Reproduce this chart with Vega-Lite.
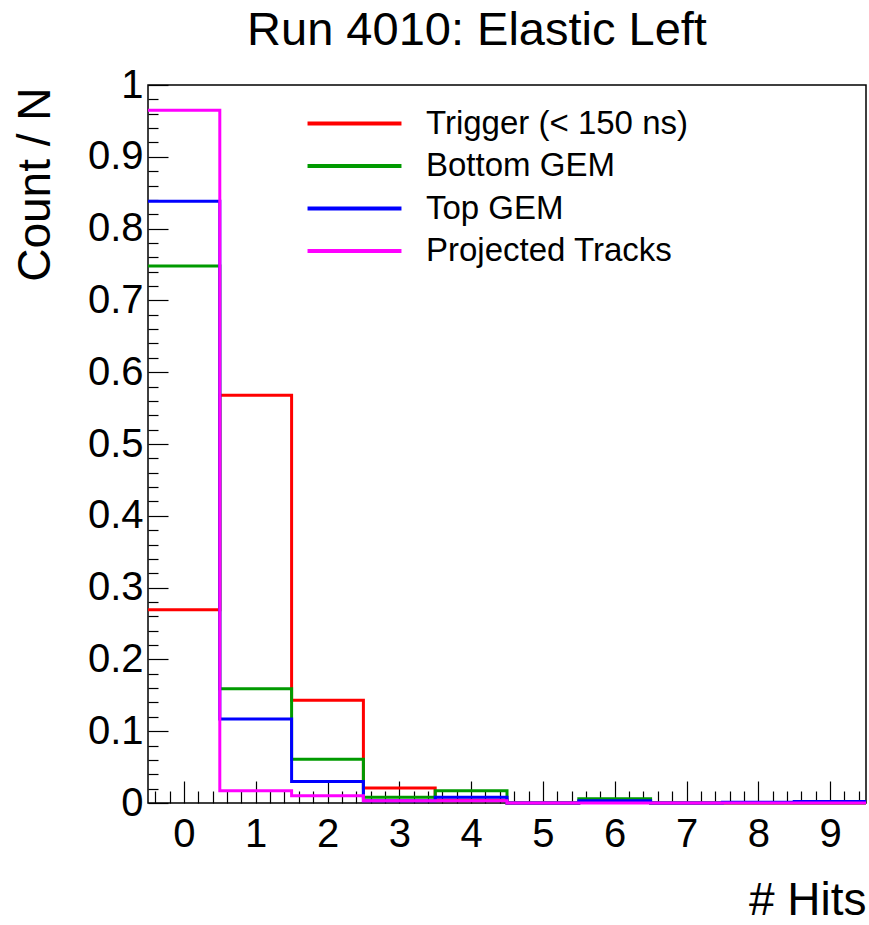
{
  "$schema": "https://vega.github.io/schema/vega-lite/v6.json",
  "width": 718,
  "height": 718,
  "autosize": "none",
  "padding": {"left": 148, "top": 85, "right": 3, "bottom": 122},
  "background": "white",
  "config": {
    "view": {"stroke": "#000", "strokeWidth": 1.5},
    "font": "Liberation Sans",
    "axis": {"labelFont": "Liberation Sans", "titleFont": "Liberation Sans", "labelColor": "#000", "titleColor": "#000", "tickColor": "#000"}
  },
  "title": {
    "text": "Run 4010: Elastic Left",
    "fontSize": 47,
    "font": "Liberation Sans",
    "fontWeight": "normal",
    "color": "#000",
    "anchor": "middle",
    "frame": "group",
    "dx": -30,
    "offset": 10
  },
  "data": {
    "values": [
      {"series": "Trigger (< 150 ns)", "x": -0.5, "y": 0.269},
      {"series": "Trigger (< 150 ns)", "x": 0.5, "y": 0.568},
      {"series": "Trigger (< 150 ns)", "x": 1.5, "y": 0.143},
      {"series": "Trigger (< 150 ns)", "x": 2.5, "y": 0.021},
      {"series": "Trigger (< 150 ns)", "x": 3.5, "y": 0.004},
      {"series": "Trigger (< 150 ns)", "x": 4.5, "y": 0.0},
      {"series": "Trigger (< 150 ns)", "x": 5.5, "y": 0.001},
      {"series": "Trigger (< 150 ns)", "x": 6.5, "y": 0.0},
      {"series": "Trigger (< 150 ns)", "x": 7.5, "y": 0.0},
      {"series": "Trigger (< 150 ns)", "x": 8.5, "y": 0.0},
      {"series": "Trigger (< 150 ns)", "x": 9.5, "y": 0.0},
      {"series": "Bottom GEM", "x": -0.5, "y": 0.748},
      {"series": "Bottom GEM", "x": 0.5, "y": 0.159},
      {"series": "Bottom GEM", "x": 1.5, "y": 0.061},
      {"series": "Bottom GEM", "x": 2.5, "y": 0.008},
      {"series": "Bottom GEM", "x": 3.5, "y": 0.017},
      {"series": "Bottom GEM", "x": 4.5, "y": 0.0},
      {"series": "Bottom GEM", "x": 5.5, "y": 0.006},
      {"series": "Bottom GEM", "x": 6.5, "y": 0.0},
      {"series": "Bottom GEM", "x": 7.5, "y": 0.0},
      {"series": "Bottom GEM", "x": 8.5, "y": 0.0},
      {"series": "Bottom GEM", "x": 9.5, "y": 0.0},
      {"series": "Top GEM", "x": -0.5, "y": 0.838},
      {"series": "Top GEM", "x": 0.5, "y": 0.117},
      {"series": "Top GEM", "x": 1.5, "y": 0.030},
      {"series": "Top GEM", "x": 2.5, "y": 0.003},
      {"series": "Top GEM", "x": 3.5, "y": 0.008},
      {"series": "Top GEM", "x": 4.5, "y": 0.0},
      {"series": "Top GEM", "x": 5.5, "y": 0.003},
      {"series": "Top GEM", "x": 6.5, "y": 0.0},
      {"series": "Top GEM", "x": 7.5, "y": 0.001},
      {"series": "Top GEM", "x": 8.5, "y": 0.002},
      {"series": "Top GEM", "x": 9.5, "y": 0.002},
      {"series": "Projected Tracks", "x": -0.5, "y": 0.965},
      {"series": "Projected Tracks", "x": 0.5, "y": 0.017},
      {"series": "Projected Tracks", "x": 1.5, "y": 0.010},
      {"series": "Projected Tracks", "x": 2.5, "y": 0.003},
      {"series": "Projected Tracks", "x": 3.5, "y": 0.003},
      {"series": "Projected Tracks", "x": 4.5, "y": 0.0},
      {"series": "Projected Tracks", "x": 5.5, "y": 0.0},
      {"series": "Projected Tracks", "x": 6.5, "y": 0.0},
      {"series": "Projected Tracks", "x": 7.5, "y": 0.0},
      {"series": "Projected Tracks", "x": 8.5, "y": 0.0},
      {"series": "Projected Tracks", "x": 9.5, "y": 0.0}
    ]
  },
  "layer": [
    {
      "mark": {"type": "line", "interpolate": "step-after", "strokeWidth": 3, "clip": false},
      "encoding": {
        "x": {
          "field": "x", "type": "quantitative",
          "scale": {"domain": [-0.5, 9.5], "nice": false, "zero": false},
          "axis": {
            "values": [0, 1, 2, 3, 4, 5, 6, 7, 8, 9],
            "tickSize": -22, "tickWidth": 1.2, "domain": false, "grid": false,
            "labelFontSize": 40, "labelPadding": 33,
            "title": "# Hits", "titleFontSize": 46, "titleFontWeight": "normal",
            "titleAlign": "right", "titleBaseline": "alphabetic", "titleX": 718, "titleY": 111
          }
        },
        "y": {
          "field": "y", "type": "quantitative",
          "scale": {"domain": [0, 1], "nice": false},
          "axis": {
            "values": [0, 0.1, 0.2, 0.3, 0.4, 0.5, 0.6, 0.7, 0.8, 0.9, 1],
            "format": ".1~f",
            "tickSize": -20, "tickWidth": 1.2, "domain": false, "grid": false,
            "labelFontSize": 40, "labelPadding": 25,
            "title": "Count / N", "titleFontSize": 46, "titleFontWeight": "normal",
            "titleAngle": -90, "titleAlign": "right", "titleBaseline": "alphabetic", "titleX": -99, "titleY": 2
          }
        },
        "color": {
          "field": "series", "type": "nominal",
          "scale": {
            "domain": ["Trigger (< 150 ns)", "Bottom GEM", "Top GEM", "Projected Tracks"],
            "range": ["#ff0000", "#009a00", "#0000ff", "#ff00ff"]
          },
          "legend": {
            "orient": "none", "legendX": 190, "legendY": 22,
            "title": null, "padding": 0,
            "symbolType": "M-5,0H5", "symbolSize": 353, "symbolStrokeWidth": 4,
            "labelFontSize": 33, "labelFont": "Liberation Sans", "labelColor": "#000",
            "labelOffset": 55, "rowPadding": 8.5, "labelLimit": 400
          }
        }
      }
    },
    {
      "mark": {"type": "line", "strokeOpacity": 0},
      "encoding": {
        "x": {
          "field": "x", "type": "quantitative",
          "axis": {
            "values": [-0.4, -0.2, 0.2, 0.4, 0.6, 0.8, 1.2, 1.4, 1.6, 1.8, 2.2, 2.4, 2.6, 2.8, 3.2, 3.4, 3.6, 3.8, 4.2, 4.4, 4.6, 4.8, 5.2, 5.4, 5.6, 5.8, 6.2, 6.4, 6.6, 6.8, 7.2, 7.4, 7.6, 7.8, 8.2, 8.4, 8.6, 8.8, 9.2, 9.4],
            "orient": "bottom", "tickSize": -12, "tickWidth": 1.2, "labels": false, "domain": false, "grid": false, "title": null
          }
        },
        "y": {
          "field": "y", "type": "quantitative",
          "axis": {
            "values": [0.02, 0.04, 0.06, 0.08, 0.12, 0.14, 0.16, 0.18, 0.22, 0.24, 0.26, 0.28, 0.32, 0.34, 0.36, 0.38, 0.42, 0.44, 0.46, 0.48, 0.52, 0.54, 0.56, 0.58, 0.62, 0.64, 0.66, 0.68, 0.72, 0.74, 0.76, 0.78, 0.82, 0.84, 0.86, 0.88, 0.92, 0.94, 0.96, 0.98],
            "orient": "left", "tickSize": -10, "tickWidth": 1.2, "labels": false, "domain": false, "grid": false, "title": null
          }
        },
        "detail": {"field": "series", "type": "nominal"}
      }
    }
  ],
  "resolve": {"axis": {"x": "independent", "y": "independent"}}
}
